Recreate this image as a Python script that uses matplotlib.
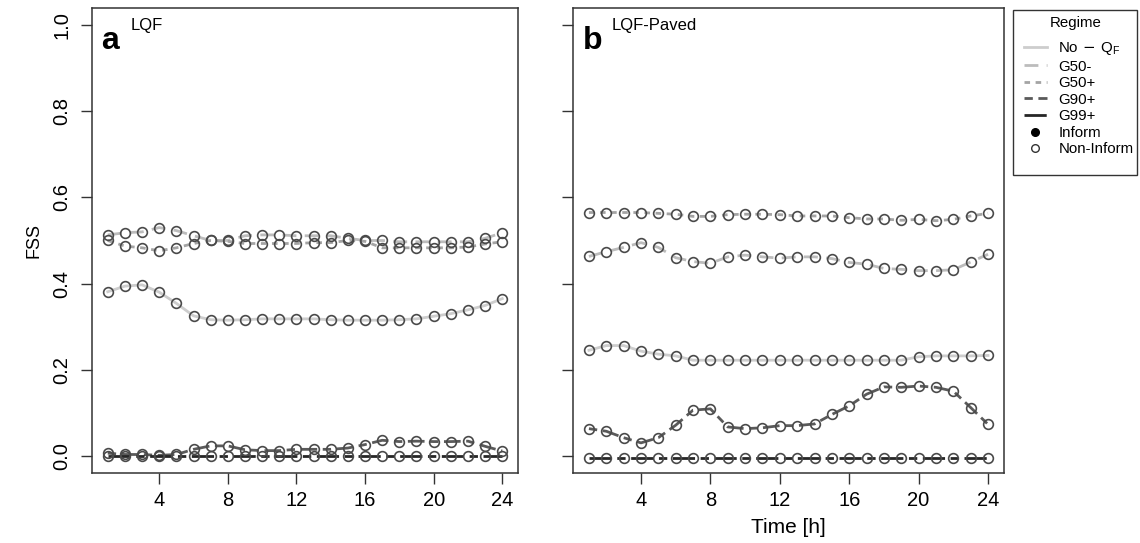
import matplotlib
matplotlib.use("Agg")
import matplotlib.pyplot as plt
from matplotlib.lines import Line2D
from matplotlib.patches import Rectangle
import numpy as np

plt.rcParams["font.family"] = ["Liberation Sans", "DejaVu Sans"]

hours = np.arange(1, 25)
regimes = ["No-QF", "G50-", "G50+", "G90+", "G99+"]
legend_labels = [r"No$\,-\,$Q$_\mathregular{F}$", "G50-", "G50+", "G90+", "G99+"]

# panel a: LQF
lqf_noqf = [0.381, 0.394, 0.397, 0.380, 0.354, 0.325, 0.316, 0.315, 0.316, 0.318, 0.318,
            0.318, 0.318, 0.316, 0.315, 0.315, 0.315, 0.316, 0.318, 0.324, 0.330, 0.339,
            0.349, 0.365]
lqf_g50m = [0.513, 0.518, 0.520, 0.530, 0.523, 0.511, 0.500, 0.500, 0.511, 0.513, 0.513,
            0.511, 0.511, 0.511, 0.505, 0.500, 0.500, 0.497, 0.497, 0.497, 0.497, 0.497,
            0.505, 0.518]
lqf_g50p = [0.500, 0.487, 0.483, 0.476, 0.483, 0.493, 0.500, 0.498, 0.493, 0.493, 0.493,
            0.493, 0.495, 0.495, 0.500, 0.498, 0.483, 0.483, 0.483, 0.483, 0.483, 0.485,
            0.492, 0.497]
lqf_g90p = [0.006, 0.003, 0.003, 0.001, 0.003, 0.015, 0.023, 0.023, 0.014, 0.012, 0.012,
            0.015, 0.015, 0.015, 0.018, 0.026, 0.036, 0.033, 0.034, 0.033, 0.033, 0.034,
            0.022, 0.011]
lqf_g99p = [0.0] * 24

# panel b: LQF-Paved
paved_noqf = [0.245, 0.256, 0.256, 0.243, 0.236, 0.232, 0.222, 0.222, 0.222, 0.222, 0.222,
              0.222, 0.222, 0.222, 0.222, 0.222, 0.222, 0.222, 0.222, 0.230, 0.232, 0.232,
              0.232, 0.233]
paved_g50m = [0.463, 0.474, 0.484, 0.495, 0.484, 0.460, 0.451, 0.447, 0.462, 0.466, 0.462,
              0.459, 0.462, 0.462, 0.458, 0.449, 0.445, 0.435, 0.433, 0.430, 0.430, 0.432,
              0.450, 0.468]
paved_g50p = [0.565, 0.565, 0.565, 0.565, 0.563, 0.561, 0.556, 0.556, 0.560, 0.561, 0.561,
              0.560, 0.557, 0.557, 0.557, 0.553, 0.550, 0.550, 0.547, 0.549, 0.546, 0.549,
              0.557, 0.563]
paved_g90p = [0.063, 0.057, 0.042, 0.030, 0.042, 0.071, 0.106, 0.109, 0.067, 0.063, 0.065,
              0.070, 0.070, 0.074, 0.096, 0.116, 0.143, 0.160, 0.159, 0.162, 0.159, 0.150,
              0.112, 0.073]
paved_g99p = [-0.004] * 24

panels = [
    ("a", "LQF", [lqf_noqf, lqf_g50m, lqf_g50p, lqf_g90p, lqf_g99p]),
    ("b", "LQF-Paved", [paved_noqf, paved_g50m, paved_g50p, paved_g90p, paved_g99p]),
]

line_styles = {
    "No-QF": dict(color="#cdcdcd", linestyle="-", linewidth=2.0),
    "G50-": dict(color="#bcbcbc", linestyle=(0, (5, 3)), linewidth=2.0),
    "G50+": dict(color="#a4a4a4", linestyle=(0, (2, 2)), linewidth=2.0),
    "G90+": dict(color="#5a5a5a", linestyle=(0, (3, 2, 6, 2)), linewidth=2.0),
    "G99+": dict(color="#262626", linestyle=(0, (8, 2, 3, 2)), linewidth=2.0),
}
marker_kw = dict(marker="o", markersize=7, markerfacecolor="none",
                 markeredgecolor="#4a4a4a", markeredgewidth=1.2)

fig = plt.figure(figsize=(11.4, 5.43), dpi=100)
ax_a = fig.add_axes([0.0807, 0.1289, 0.3737, 0.8564])
ax_b = fig.add_axes([0.5026, 0.1289, 0.3781, 0.8564])

for ax, (letter, title, series) in zip([ax_a, ax_b], panels):
    for name, vals in zip(regimes, series):
        ax.plot(hours, vals, **line_styles[name], zorder=2)
        ax.plot(hours, vals, linestyle="none", **marker_kw, zorder=3)
    ax.set_xlim(0.08, 24.92)
    ax.set_ylim(-0.04, 1.04)
    ax.set_xticks([4, 8, 12, 16, 20, 24])
    ax.set_yticks([0.0, 0.2, 0.4, 0.6, 0.8, 1.0])
    ax.tick_params(length=8, width=1, labelsize=14.5, color="#333333")
    ax.tick_params(axis="x", pad=5)
    ax.tick_params(axis="y", pad=7)
    for sp in ax.spines.values():
        sp.set_color("#333333")
        sp.set_linewidth(1.1)
    ax.text(0.022, 0.962, letter, transform=ax.transAxes, fontsize=23,
            fontweight="bold", va="top", ha="left")
    ax.text(0.09, 0.978, title, transform=ax.transAxes, fontsize=12,
            va="top", ha="left")

ax_a.set_yticklabels(["0.0", "0.2", "0.4", "0.6", "0.8", "1.0"], rotation=90, va="center")
ax_a.set_ylabel("FSS", fontsize=13, labelpad=7)
ax_b.set_yticklabels([])
ax_b.set_xlabel("Time [h]", fontsize=15, labelpad=6)

handles = [Line2D([], [], **line_styles[name]) for name in regimes]
handles.append(Line2D([], [], linestyle="none", marker="o", markersize=5.5,
                      markerfacecolor="black", markeredgecolor="black"))
handles.append(Line2D([], [], linestyle="none", marker="o", markersize=5.5,
                      markerfacecolor="none", markeredgecolor="#333333"))
labels = legend_labels + ["Inform", "Non-Inform"]

fig.text(1076 / 1140, 1 - 23 / 543, "Regime", fontsize=10.8, ha="center", va="center")
fig.legend(handles, labels, loc="upper left",
           bbox_to_anchor=(1024 / 1140, 1 - 40 / 543), fontsize=10.8,
           frameon=False, handlelength=1.5, labelspacing=0.17, borderpad=0.0,
           handletextpad=0.8, borderaxespad=0.0)
fig.patches.append(Rectangle((1013 / 1140, 1 - 175 / 543), 124 / 1140, 165 / 543,
                             transform=fig.transFigure, fill=False,
                             edgecolor="#333333", linewidth=1.0))

fig.savefig("out.png", dpi=100)
